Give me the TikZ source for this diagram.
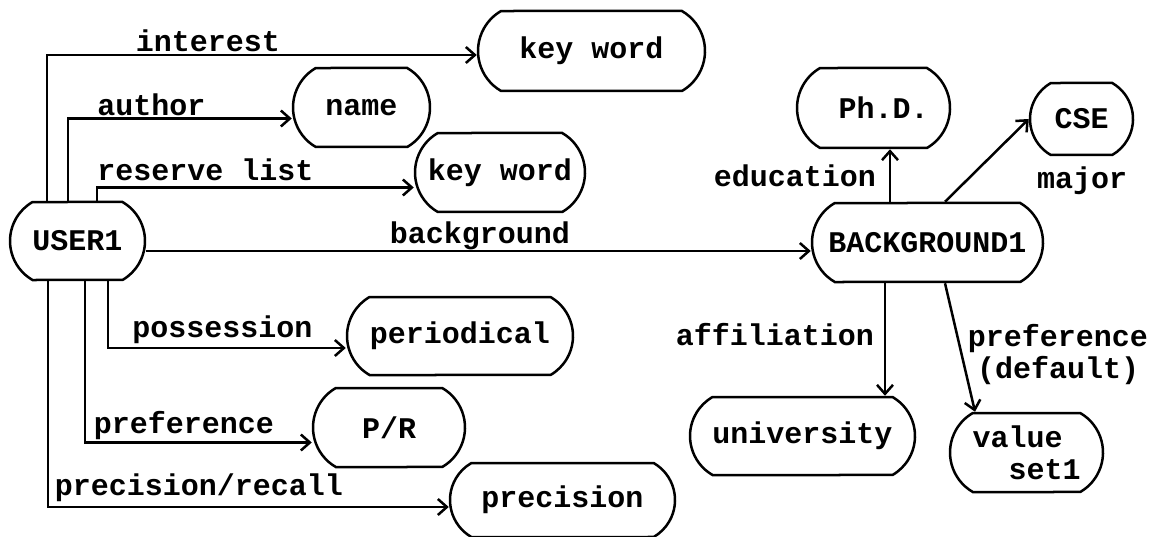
\documentclass[tikz,border=0pt]{standalone}
\usepackage{fontspec}
\setmainfont{Liberation Mono}
\usetikzlibrary{shapes.misc,arrows.meta,calc}
\begin{document}
\begin{tikzpicture}[x=1pt,y=-1pt,
  every node/.style={font=\bfseries\fontsize{30}{32}\selectfont},
  box/.style={draw, rounded rectangle, rounded rectangle arc length=120, inner sep=0pt, line width=2.5pt},
  lab/.style={inner sep=0pt, yshift=2pt},
  con/.style={line width=2.5pt, -{Straight Barb[length=9pt,width=16pt,line width=2.5pt]}}
]
\useasboundingbox (0,0) rectangle (1153,537);

% entity boxes
\node[box,minimum width=227pt,minimum height=80pt] (kw1) at (591.5,51) {key word};
\node[box,minimum width=137pt,minimum height=79pt] (name) at (361.5,107.5) {name};
\node[box,minimum width=170pt,minimum height=79pt] (kw2) at (500,172.5) {key word};
\node[box,minimum width=135pt,minimum height=78pt] (user) at (77.5,241) {USER1\hspace{16pt}};
\node[box,minimum width=231pt,minimum height=79pt] (bg) at (927.5,242.5) {BACKGROUND1};
\node[box,minimum width=153pt,minimum height=80pt] (phd) at (873.5,108) {\hspace{20pt}Ph.D.};
\node[box,minimum width=103pt,minimum height=72pt] (cse) at (1081.5,119) {CSE};
\node[box,minimum width=226pt,minimum height=78pt] (periodical) at (460,336) {periodical};
\node[box,minimum width=152pt,minimum height=79pt] (pr) at (389,427.5) {P/R};
\node[box,minimum width=225pt,minimum height=74pt] (prec) at (562.5,500) {precision\hspace{16pt}};
\node[box,minimum width=225pt,minimum height=78pt] (univ) at (802.5,436) {university};
\node[box,minimum width=153pt,minimum height=79pt,align=left] (val) at (1026.5,452.5) {value\\\phantom{xx}set1};

% connector labels
\node[lab] (linterest) at (208,43) {interest};
\node[lab] (lauthor) at (151.5,107) {author};
\node[lab] (lreserve) at (205.5,172) {reserve list};
\node[lab] (lbackground) at (480,238) {background};
\node[lab] (lpossession) at (222.5,332) {possession};
\node[lab] (lpref) at (184,428) {preference};
\node[lab] (lprecrec) at (199,490) {precision/recall};
\node[lab] (leducation) at (795,178) {education};
\node[lab] (lmajor) at (1082,183) {major};
\node[lab] (laffiliation) at (775,337) {affiliation};
\node[lab,align=center] (lprefdef) at (1058,357) {preference\\(default)};

% connectors from USER1
\draw[con] ([xshift=-30.5pt]user.north) |- ([yshift=-4pt]kw1.west);
\draw[con] ([xshift=-9.5pt]user.north) |- ([yshift=-11pt]name.west);
\draw[con] ([xshift=19.5pt]user.north) |- ([yshift=-15pt]kw2.west);
\draw[con] ([yshift=-10pt]user.east) coordinate (ub) -- (ub -| bg.west);
\draw[con] ([xshift=30.5pt]user.south) |- ([yshift=-12pt]periodical.west);
\draw[con] ([xshift=7.5pt]user.south) |- ([yshift=-15pt]pr.west);
\draw[con] ([xshift=-29.5pt]user.south) |- ([yshift=-7pt]prec.west);

% connectors from BACKGROUND1
\draw[con] ($(bg.north)+(-37.5,0)$) coordinate (p) -- (p |- phd.south);
\draw[con] ($(bg.north)+(17.5,0)$) -- (cse.west);
\draw[con] ($(bg.south)+(-42.5,0)$) coordinate (q) -- (q |- univ.north);
\draw[con] ($(bg.south)+(17.5,0)$) -- ($(val.north)+(-51.5,0)$);
\end{tikzpicture}
\end{document}
